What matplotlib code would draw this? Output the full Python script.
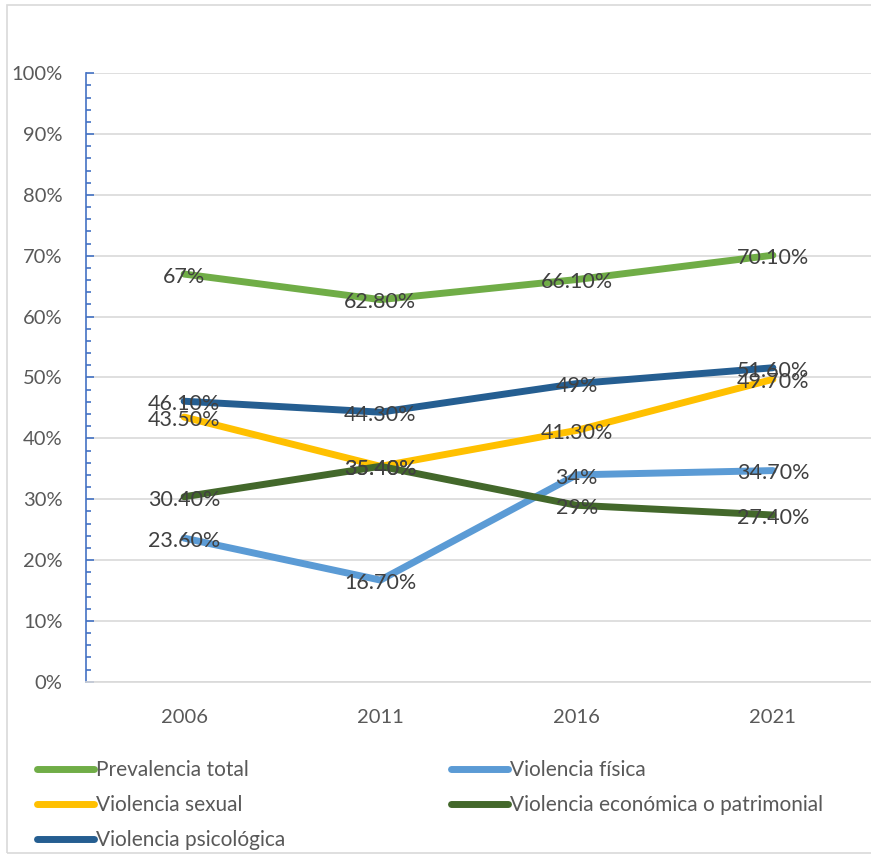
import numpy as np
import matplotlib
matplotlib.use("Agg")
import matplotlib.pyplot as plt
from matplotlib.patches import Rectangle
from matplotlib.ticker import MultipleLocator, PercentFormatter

plt.rcParams['font.family'] = ['Lato', 'DejaVu Sans']

years = ['2006', '2011', '2016', '2021']
series_names = ['Prevalencia total', 'Violencia física', 'Violencia sexual',
                'Violencia económica o patrimonial', 'Violencia psicológica']
prevalencia = [67, 62.8, 66.1, 70.1]
fisica = [23.6, 16.7, 34, 34.7]
sexual = [43.5, 35.4, 41.3, 49.7]
economica = [30.4, 35.4, 29, 27.4]
psicologica = [46.1, 44.3, 49, 51.6]
labels_prev = ['67%', '62.80%', '66.10%', '70.10%']
labels_fis = ['23.60%', '16.70%', '34%', '34.70%']
labels_sex = ['43.50%', '35.40%', '41.30%', '49.70%']
labels_eco = ['30.40%', '35.40%', '29%', '27.40%']
labels_psi = ['46.10%', '44.30%', '49%', '51.60%']

colors = ['#70AD47', '#5B9BD5', '#FFC000', '#43682B', '#255E91']
all_values = [prevalencia, fisica, sexual, economica, psicologica]
all_labels = [labels_prev, labels_fis, labels_sex, labels_eco, labels_psi]

text_color = '#404040'
grid_color = '#D9D9D9'

fig = plt.figure(figsize=(8.71, 8.55), dpi=100)
ax = fig.add_axes([86/871, (855-681.7)/855, (871-86)/871, (681.7-73.3)/855])

x = np.arange(len(years))
handles = []
for vals, col, name in zip(all_values, colors, series_names):
    h, = ax.plot(x, vals, color=col, lw=5, solid_capstyle='round', label=name)
    handles.append(h)

# data labels on top of all lines (overlaps as in the original)
for vals, labs in zip(all_values, all_labels):
    for xi, v, lab in zip(x, vals, labs):
        ax.annotate(lab, (xi, v), xytext=(0, -2), textcoords='offset points',
                    ha='center', va='center', fontsize=15.5, color=text_color, zorder=5)

ax.set_xlim(-0.5, 3.5)
ax.set_ylim(0, 100)
ax.set_xticks(x)
ax.set_xticklabels(years)
ax.yaxis.set_major_locator(MultipleLocator(10))
ax.yaxis.set_minor_locator(MultipleLocator(2))
ax.yaxis.set_major_formatter(PercentFormatter(decimals=0))
ax.grid(axis='y', color=grid_color, lw=1.2)
ax.set_axisbelow(True)

for s in ['top', 'right']:
    ax.spines[s].set_visible(False)
ax.spines['left'].set_color('#4472C4')
ax.spines['left'].set_linewidth(1.2)
ax.spines['bottom'].set_color(grid_color)
ax.spines['bottom'].set_linewidth(1.2)

ax.tick_params(axis='y', which='major', direction='in', length=6, width=1.2,
               color='#4472C4', labelsize=14.5, labelcolor='#595959', pad=17)
ax.tick_params(axis='y', which='minor', direction='in', length=3.5, width=1.2,
               color='#4472C4')
ax.tick_params(axis='x', length=0, labelsize=14.5, labelcolor='#595959', pad=20)

# legend in two columns, Excel style
leg_kw = dict(frameon=False, fontsize=15, handlelength=2.75, handletextpad=0.1,
              labelspacing=0.72, labelcolor='#595959', borderaxespad=0, borderpad=0)
leg1 = fig.legend([handles[0], handles[2], handles[4]],
                  [series_names[0], series_names[2], series_names[4]],
                  loc='upper left', bbox_to_anchor=(37/871, 1 - 760/855), **leg_kw)
leg2 = fig.legend([handles[1], handles[3]],
                  [series_names[1], series_names[3]],
                  loc='upper left', bbox_to_anchor=(451/871, 1 - 760/855), **leg_kw)

fig.add_artist(Rectangle((7/871, 2/855), 1.0, 1 - 7/855, transform=fig.transFigure,
                         fill=False, edgecolor=grid_color, lw=1.2))

fig.savefig('out.png', dpi=100)
